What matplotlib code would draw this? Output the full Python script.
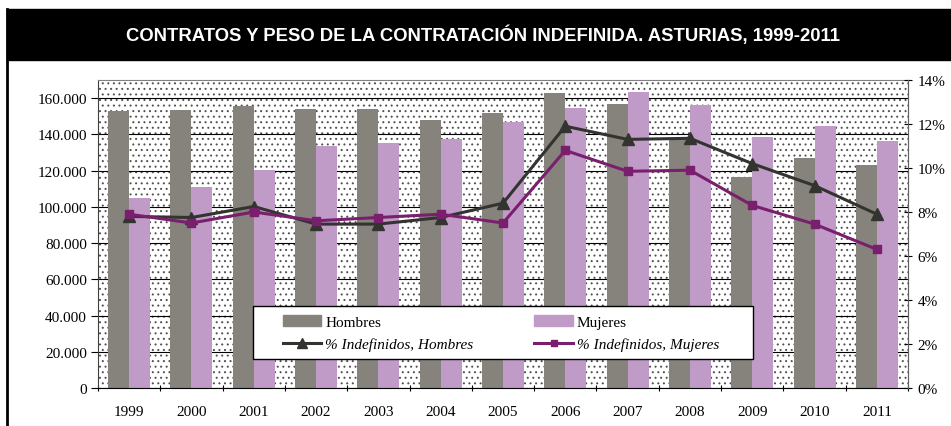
import matplotlib
matplotlib.use("Agg")
import numpy as np
from matplotlib import pyplot as plt
from matplotlib.patches import Rectangle, Patch
from matplotlib.lines import Line2D
from matplotlib.ticker import FuncFormatter

# datos
years = ['1999', '2000', '2001', '2002', '2003', '2004', '2005',
         '2006', '2007', '2008', '2009', '2010', '2011']
hombres = [153000, 153600, 155800, 154000, 154000, 148000, 151800,
           162800, 157000, 137400, 116300, 127000, 123000]
mujeres = [104800, 111000, 120400, 133500, 135500, 137300, 147000,
           154300, 163500, 156100, 138700, 144700, 136400]
pct_hombres = [7.8, 7.75, 8.25, 7.45, 7.45, 7.75, 8.4,
               11.9, 11.3, 11.35, 10.2, 9.2, 7.9]
pct_mujeres = [7.9, 7.5, 8.0, 7.6, 7.75, 7.9, 7.5,
               10.8, 9.85, 9.9, 8.3, 7.45, 6.3]

plt.rcParams['font.family'] = ['Liberation Serif', 'DejaVu Serif']
plt.rcParams['hatch.linewidth'] = 0.7

fig = plt.figure(figsize=(9.51, 4.27), dpi=100)
W, H = 951.0, 427.0

# banda del titulo y borde izquierdo
fig.patches.append(Rectangle((7 / W, 1 - 61 / H), 1 - 7 / W, 51 / H,
                             transform=fig.transFigure, color='black', zorder=0))
fig.add_artist(Line2D([7 / W, 7 / W], [0, 1 - 10 / H], transform=fig.transFigure,
                      color='black', lw=2))
fig.text(483 / W, 1 - 35 / H,
         'CONTRATOS Y PESO DE LA CONTRATACIÓN INDEFINIDA. ASTURIAS, 1999-2011',
         color='white', fontsize=13.3, fontweight='bold', ha='center', va='center',
         family=['Liberation Sans', 'DejaVu Sans'])

ax = fig.add_axes([98 / W, 1 - 389 / H, 810 / W, 308 / H])
# fondo punteado
ax.add_patch(Rectangle((0, 0), 1, 1, transform=ax.transAxes, facecolor='white',
                       edgecolor='#505050', lw=0, hatch='...', zorder=0))

x = np.arange(len(years))
w = 0.337
ax.bar(x - w / 2, hombres, w, color='#86827c', zorder=2)
ax.bar(x + w / 2, mujeres, w, color='#c09bc8', zorder=2)

ax.set_xlim(-0.5, len(years) - 0.5)
ax.set_ylim(0, 170000)
ax.set_yticks(np.arange(0, 170001, 20000))
ax.yaxis.set_major_formatter(FuncFormatter(lambda v, p: f'{int(v):,}'.replace(',', '.')))
ax.yaxis.grid(True, color='black', lw=0.8, zorder=1)
ax.set_axisbelow(True)
ax.set_xticks(x)
ax.set_xticklabels(years)
ax.set_xticks(np.arange(-0.5, len(years)), minor=True)
ax.tick_params(axis='x', which='major', length=0, pad=12, labelsize=11)
ax.tick_params(axis='x', which='minor', length=5, direction='inout', width=0.8)
ax.tick_params(axis='y', length=5, width=0.8, labelsize=11, pad=3)
for s in ['top', 'right', 'left']:
    ax.spines[s].set_color('#808080')
    ax.spines[s].set_linewidth(0.8)
ax.spines['bottom'].set_color('black')
ax.spines['left'].set_color('#404040')

ax2 = ax.twinx()
ax2.plot(x, pct_hombres, color='#333330', lw=2.2, marker='^', markersize=8, zorder=3)
ax2.plot(x, pct_mujeres, color='#7a1e6e', lw=2.2, marker='s', markersize=5.5, zorder=3)
ax2.set_ylim(0, 14)
ax2.set_yticks(np.arange(0, 15, 2))
ax2.yaxis.set_major_formatter(FuncFormatter(lambda v, p: f'{int(v)}%'))
ax2.tick_params(axis='y', length=6, width=0.8, direction='inout', labelsize=11, pad=4)
for s in ['top', 'left', 'bottom']:
    ax2.spines[s].set_visible(False)
ax2.spines['right'].set_color('#606060')
ax2.spines['right'].set_linewidth(0.8)

# marco de la leyenda
ax2.add_patch(Rectangle((253 / W, 1 - 360 / H), 500 / W, 53 / H,
                        transform=fig.transFigure, facecolor='white',
                        edgecolor='black', lw=1.0, zorder=4, clip_on=False))
handles = [Patch(color='#86827c'),
           Line2D([], [], color='#333330', lw=2.2, marker='^', markersize=7),
           Patch(color='#c09bc8'),
           Line2D([], [], color='#7a1e6e', lw=2.2, marker='s', markersize=5)]
labels = ['Hombres', '% Indefinidos, Hombres', 'Mujeres', '% Indefinidos, Mujeres']
leg = ax2.legend(handles, labels, ncol=2, loc='center',
                 bbox_to_anchor=(501 / W, 1 - 334 / H),
                 bbox_transform=fig.transFigure, frameon=False,
                 fontsize=11, handlelength=2.5, handleheight=0.8,
                 handletextpad=0.25, borderpad=0, labelspacing=0.55,
                 columnspacing=4.0, borderaxespad=0)
leg.set_zorder(5)
for t in leg.get_texts():
    if t.get_text().startswith('%'):
        t.set_style('italic')

fig.savefig('out.png', dpi=100)
